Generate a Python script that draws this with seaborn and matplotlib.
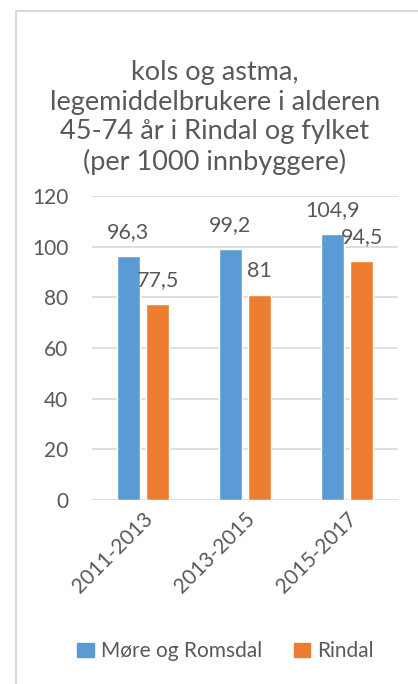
import pandas as pd
import matplotlib.pyplot as plt
import seaborn as sns
from matplotlib.lines import Line2D

# data
perioder = ['2011-2013', '2013-2015', '2015-2017']
more_romsdal = [96.3, 99.2, 104.9]
rindal = [77.5, 81.0, 94.5]
serier = ['Møre og Romsdal', 'Rindal']

df = pd.DataFrame({
    'Periode': perioder * 2,
    'Verdi': more_romsdal + rindal,
    'Serie': [serier[0]] * 3 + [serier[1]] * 3,
})

sns.set_style('white')
plt.rcParams['font.family'] = ['Lato', 'DejaVu Sans']
tekst = '#595959'
farger = ['#5B9BD5', '#ED7D31']

fig = plt.figure(figsize=(4.18, 6.84), dpi=100)
ax = fig.add_axes([0.22, 0.269, 0.732, 0.4444])

sns.barplot(data=df, x='Periode', y='Verdi', hue='Serie', palette=farger,
            saturation=1, width=0.577, gap=0.21, ax=ax, legend=False, zorder=3)

# data labels
for cont in ax.containers:
    labels = [f'{v:g}'.replace('.', ',') for v in cont.datavalues]
    ax.bar_label(cont, labels=labels, padding=10, fontsize=15.5, color=tekst)

ax.set_ylim(0, 120)
ax.set_yticks(range(0, 121, 20))
ax.yaxis.grid(True, color='#D9D9D9', linewidth=1.2, zorder=0)
ax.set_axisbelow(True)
for s in ax.spines.values():
    s.set_visible(False)
ax.set_xlabel('')
ax.set_ylabel('')
ax.tick_params(axis='y', labelsize=15, labelcolor=tekst, length=0, pad=17)
ax.tick_params(axis='x', labelsize=15, labelcolor=tekst, length=0, pad=6)
plt.setp(ax.get_xticklabels(), rotation=45, ha='right', rotation_mode='anchor')

fig.text(0.514, 0.828,
         'kols og astma,\nlegemiddelbrukere i alderen\n45-74 år i Rindal og fylket\n(per 1000 innbyggere)',
         ha='center', va='center', fontsize=19.5, color=tekst, linespacing=1.22)

handles = [plt.Rectangle((0, 0), 1, 1, color=c) for c in farger]
fig.legend(handles, serier, loc='center', bbox_to_anchor=(0.54, 0.048), ncol=2,
           frameon=False, fontsize=15, labelcolor=tekst, handlelength=0.8,
           handleheight=0.7, handletextpad=0.35, columnspacing=1.5)

# chart border
fig.add_artist(Line2D([16 / 418, 16 / 418], [0, 1 - 11 / 684], color='#D9D9D9', linewidth=1.5))
fig.add_artist(Line2D([16 / 418, 1], [1 - 11 / 684, 1 - 11 / 684], color='#D9D9D9', linewidth=1.5))

fig.savefig('out.png', dpi=100)
